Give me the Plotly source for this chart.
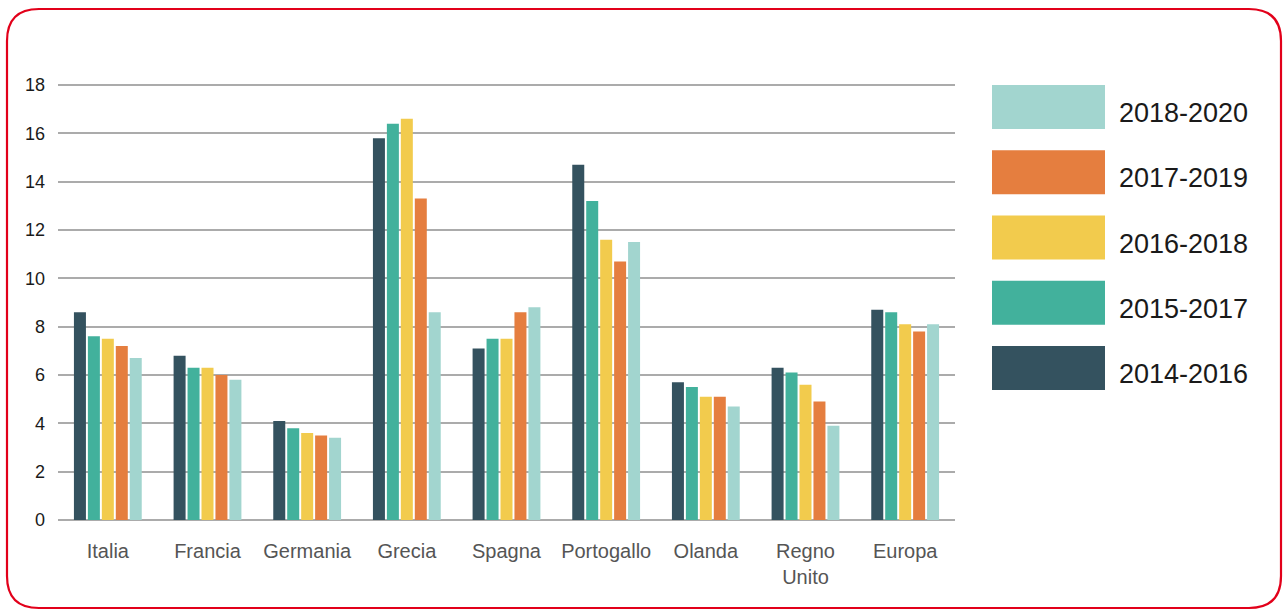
import plotly.graph_objects as go

W, H = 1284, 610
categories = ["Italia", "Francia", "Germania", "Grecia", "Spagna", "Portogallo", "Olanda", "Regno<br>Unito", "Europa"]
series_names = ["2014-2016", "2015-2017", "2016-2018", "2017-2019", "2018-2020"]
v_2014_2016 = [8.6, 6.8, 4.1, 15.8, 7.1, 14.7, 5.7, 6.3, 8.7]
v_2015_2017 = [7.6, 6.3, 3.8, 16.4, 7.5, 13.2, 5.5, 6.1, 8.6]
v_2016_2018 = [7.5, 6.3, 3.6, 16.6, 7.5, 11.6, 5.1, 5.6, 8.1]
v_2017_2019 = [7.2, 6.0, 3.5, 13.3, 8.6, 10.7, 5.1, 4.9, 7.8]
v_2018_2020 = [6.7, 5.8, 3.4, 8.6, 8.8, 11.5, 4.7, 3.9, 8.1]
colors = ["#34525F", "#42B19C", "#F2CB4D", "#E57E3F", "#A2D5CF"]
y_ticks = [0, 2, 4, 6, 8, 10, 12, 14, 16, 18]

series_values = [v_2014_2016, v_2015_2017, v_2016_2018, v_2017_2019, v_2018_2020]

ML, MR, MT, MB = 58, 329, 78, 90
PW = W - ML - MR
PH = H - MT - MB
PLOT_BOTTOM = H - MB
GRID_TOP_PX = 85  # pixel row of the 18 gridline
Y_TOP = 18 * PH / (PLOT_BOTTOM - GRID_TOP_PX)


def px(x):
    return (x - ML) / PW


def py(y):
    return (PLOT_BOTTOM - y) / PH


fig = go.Figure()
for name, vals, col in zip(series_names, series_values, colors):
    fig.add_trace(go.Bar(x=categories, y=vals, name=name, marker=dict(color=col, line=dict(width=0)),
                         showlegend=False))

shapes = []
# rounded red border
x0, x1, y0, y1, r = 7, 1281, 9, 608, 32
path = (f"M {px(x0+r)},{py(y0)} L {px(x1-r)},{py(y0)} Q {px(x1)},{py(y0)} {px(x1)},{py(y0+r)} "
        f"L {px(x1)},{py(y1-r)} Q {px(x1)},{py(y1)} {px(x1-r)},{py(y1)} "
        f"L {px(x0+r)},{py(y1)} Q {px(x0)},{py(y1)} {px(x0)},{py(y1-r)} "
        f"L {px(x0)},{py(y0+r)} Q {px(x0)},{py(y0)} {px(x0+r)},{py(y0)} Z")
shapes.append(dict(type="path", path=path, xref="paper", yref="paper",
                   line=dict(color="#E2001A", width=2.2), fillcolor="rgba(0,0,0,0)"))

annotations = []
# custom legend (top to bottom: newest first)
box_x0, box_x1, box_h, first_top, step = 992, 1105, 44, 85, 65.25
for i, idx in enumerate(reversed(range(len(series_names)))):
    top = first_top + i * step
    shapes.append(dict(type="rect", xref="paper", yref="paper",
                       x0=px(box_x0), x1=px(box_x1), y0=py(top + box_h), y1=py(top),
                       fillcolor=colors[idx], line=dict(width=0)))
    annotations.append(dict(x=px(1117), y=py(top + box_h / 2 + 6), xref="paper", yref="paper",
                            text=series_names[idx], showarrow=False, xanchor="left", yanchor="middle",
                            font=dict(size=27, color="#1a1a1a", family="Liberation Sans, Arial, sans-serif")))

fig.update_layout(
    width=W, height=H,
    margin=dict(l=ML, r=MR, t=MT, b=MB, pad=0),
    paper_bgcolor="white", plot_bgcolor="white",
    barmode="group", bargap=0.30, bargroupgap=0.14,
    font=dict(family="Liberation Sans, Arial, sans-serif"),
    shapes=shapes, annotations=annotations,
    xaxis=dict(showgrid=False, showline=False, ticks="", tickfont=dict(size=20, color="#555555"),
               ticklabelstandoff=17, fixedrange=True),
    yaxis=dict(range=[0, Y_TOP], tickvals=y_ticks, showgrid=True, gridcolor="#ABABAB", gridwidth=1.5,
               zeroline=True, zerolinecolor="#ABABAB", zerolinewidth=1.5, showline=False, ticks="",
               tickfont=dict(size=18, color="#1a1a1a"), ticklabelstandoff=12),
)

fig.write_html("out.html")
